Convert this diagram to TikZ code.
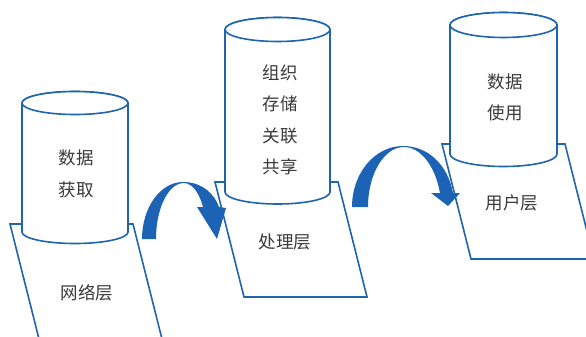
\documentclass[tikz,border=0pt]{standalone}
\usepackage{fontspec}
\newfontfamily\cjk{Noto Sans CJK SC}
\definecolor{lblue}{RGB}{31,100,175}
\definecolor{ablue}{RGB}{29,99,181}
\definecolor{txtgray}{RGB}{58,58,58}
\tikzset{
  ln/.style={draw=lblue, line width=1.6pt, fill=white, line join=miter},
  arr/.style={fill=ablue, draw=none},
  lbl/.style={font=\cjk\fontsize{17.5}{31.5}\selectfont, text=txtgray, align=center, inner sep=0pt},
}
\newcommand\mycyl[5]{%
  \path[ln] (#1-#4,#2) -- (#1-#4,#3) arc[start angle=180,end angle=360,x radius=#4pt,y radius=#5pt]
     -- (#1+#4,#2) arc[start angle=0,end angle=180,x radius=#4pt,y radius=#5pt] -- cycle;
  \draw[ln] (#1,#2) ellipse[x radius=#4pt,y radius=#5pt];
}
\begin{document}
\begin{tikzpicture}[x=1pt,y=-1pt]
\useasboundingbox (0,0) rectangle (586,337);
\clip (0,0) rectangle (586,337);
% layers
\draw[ln] (10,224) -- (133,224) -- (162,339) -- (39,339) -- cycle;
\draw[ln] (215,182) -- (338,182) -- (367,297) -- (244,297) -- cycle;
\draw[ln] (442,144) -- (565,144) -- (594,259) -- (471,259) -- cycle;
% cylinders
\mycyl{75}{103}{232}{53}{11.5}
\mycyl{277.5}{29.5}{192}{52.5}{12}
\mycyl{503.5}{25}{154}{53.5}{12.5}
% arrows
\fill[arr] (142,239) -- (156,239)
  .. controls (156,208) and (168.5,183) .. (184,183)
  .. controls (193,183) and (200,195) .. (203,207)
  -- (197,207) -- (217,239) -- (226,208) -- (219,207)
  .. controls (215,195) and (203,182) .. (183,182)
  .. controls (160.4,182) and (142,207.5) .. (142,239) -- cycle;
\fill[arr] (352,207) -- (368,207)
  .. controls (368,174) and (384,147) .. (404,147)
  .. controls (420,147) and (435,165) .. (440,193)
  -- (431,193) -- (448,206) -- (460,193) -- (453,193)
  .. controls (448,165) and (428,146) .. (403,146)
  .. controls (375,146) and (352,173) .. (352,207) -- cycle;
% texts
\node[lbl] (t1) at (76,174) {数据\\获取};
\node[lbl] (t2) at (280,120) {组织\\存储\\关联\\共享};
\node[lbl] (t3) at (505,97.5) {数据\\使用};
\node[lbl] (l1) at (87,293) {网络层};
\node[lbl] (l2) at (285,242) {处理层};
\node[lbl] (l3) at (512,203) {用户层};
\end{tikzpicture}
\end{document}
